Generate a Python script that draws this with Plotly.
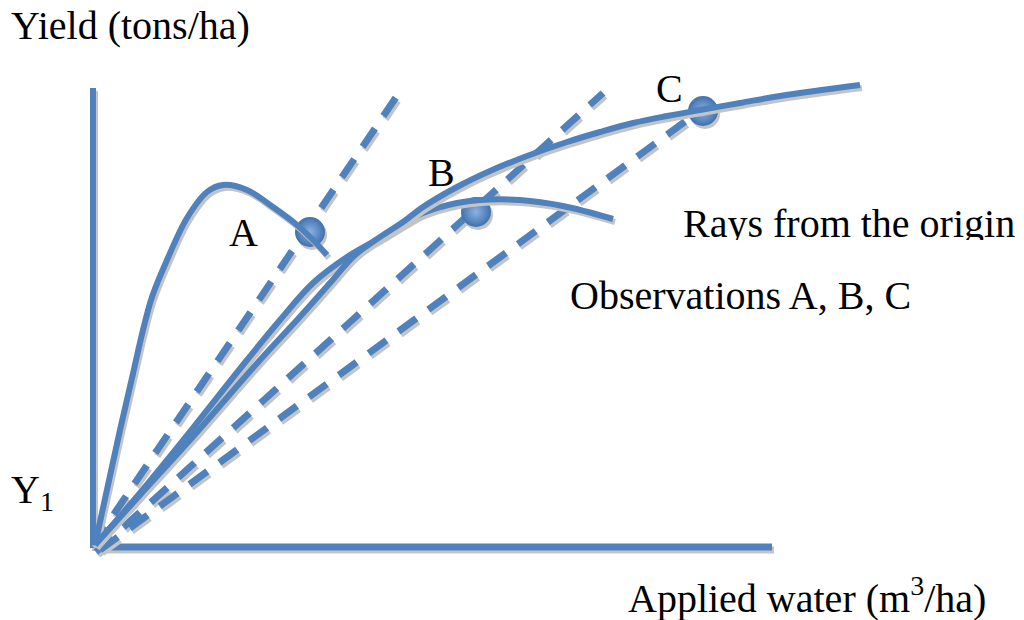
import plotly.graph_objects as go

# ---- data (x = applied water units, y = yield units; origin at 0,0) ----
curve_a_x = [0, 13, 25, 37, 48, 57, 72, 92, 112, 128, 152, 178, 202, 218, 232]
curve_a_y = [0, 60, 115, 167, 215, 248, 285, 327, 353, 360, 355, 338, 320, 305, 290]

curve_b_x = [0, 45, 90, 152, 185, 218, 252, 285, 308, 328, 362, 385, 425, 468, 518]
curve_b_y = [0, 52, 107, 185, 225, 262, 288, 307, 321, 332, 342, 345, 345, 339, 326]

curve_c_x = [0, 45, 95, 165, 202, 235, 260, 285, 308, 328, 362, 395, 432, 472, 505, 538, 572, 605, 645, 685, 765]
curve_c_y = [0, 50, 105, 185, 225, 262, 290, 308, 323, 338, 358, 374, 389, 403, 413, 422, 429, 435, 442, 449, 460]

ray_a_x = [-2, 308]
ray_a_y = [0, 458]
ray_b_x = [1, 508]
ray_b_y = [-7, 452]
ray_c_x = [5, 610]
ray_c_y = [-5, 438]

obs_names = ["A", "B", "C"]
obs_x = [215, 381, 608]
obs_y = [313, 333, 434]

yaxis_x = [-2, -2]
yaxis_y = [-3, 457]
xaxis_x = [0, 677]
xaxis_y = [-2, -2]

BLUE = "#4F81BD"
SHADOW = "#c4c4c4"
FONT = "Liberation Serif, Times New Roman, serif"
FS = 40

fig = go.Figure()

def add_line(xs, ys, width, dash=None, spline=False):
    shape = "spline" if spline else "linear"
    sx = [v + 2 for v in xs]
    sy = [v - 3 for v in ys]
    fig.add_trace(go.Scatter(x=sx, y=sy, mode="lines",
                             line=dict(color=SHADOW, width=width, dash=dash, shape=shape),
                             hoverinfo="skip", showlegend=False))
    fig.add_trace(go.Scatter(x=xs, y=ys, mode="lines",
                             line=dict(color=BLUE, width=width, dash=dash, shape=shape),
                             hoverinfo="skip", showlegend=False))

# axes
add_line(yaxis_x, yaxis_y, 6)
add_line(xaxis_x, xaxis_y, 7)

# rays from the origin
DASH = "22px,15px"
add_line(ray_a_x, ray_a_y, 7, dash=DASH)
add_line(ray_b_x, ray_b_y, 7, dash=DASH)
add_line(ray_c_x, ray_c_y, 7, dash=DASH)

# observation points
fig.add_trace(go.Scatter(x=[v + 2 for v in obs_x], y=[v - 3 for v in obs_y], mode="markers",
                         marker=dict(size=30, color=SHADOW, line=dict(width=0)),
                         hoverinfo="skip", showlegend=False))
fig.add_trace(go.Scatter(x=obs_x, y=obs_y, mode="markers",
                         marker=dict(size=30, color="#3F71AE",
                                     gradient=dict(type="radial", color="#8DB2E2"),
                                     line=dict(width=0)),
                         hoverinfo="skip", showlegend=False))

# production curves
add_line(curve_a_x, curve_a_y, 6, spline=True)
add_line(curve_b_x, curve_b_y, 6, spline=True)
add_line(curve_c_x, curve_c_y, 6, spline=True)

# clipped text (drawn as trace so a shape can clip it)
fig.add_trace(go.Scatter(x=[588], y=[318], mode="text", text=["Rays from the origin"],
                         textposition="middle right",
                         textfont=dict(family=FONT, size=FS, color="black"),
                         hoverinfo="skip", showlegend=False))

def ann(text, x, y, xanchor="left"):
    fig.add_annotation(x=x, y=y, text=text, showarrow=False, xanchor=xanchor, yanchor="middle",
                       font=dict(family=FONT, size=FS, color="black"))

ann("Yield (tons/ha)", -86, 520)
ann("Y<sub>1</sub>", -86, 53)
ann("Applied water (m<sup>3</sup>/ha)", 531, -50)
ann("Observations A, B, C", 473, 250)
label_x = [148, 346, 574]
label_y = [313, 373, 457]
for name, lx, ly in zip(obs_names, label_x, label_y):
    ann(name, lx, ly, xanchor="center")

# white box clipping the bottom of "Rays from the origin"
fig.add_shape(type="rect", xref="x", yref="y", x0=583, x1=935, y0=280, y1=305,
              fillcolor="white", line=dict(width=0), layer="above")

# page body adds an 8px margin, so the figure is 8px smaller and starts at (8, 8)
fig.update_layout(
    width=1016, height=612,
    margin=dict(l=0, r=0, t=0, b=0),
    paper_bgcolor="white", plot_bgcolor="white",
    xaxis=dict(range=[-87, 929], visible=False, fixedrange=True),
    yaxis=dict(range=[-75, 537], visible=False, fixedrange=True),
    showlegend=False,
)

fig.write_html("out.html")
